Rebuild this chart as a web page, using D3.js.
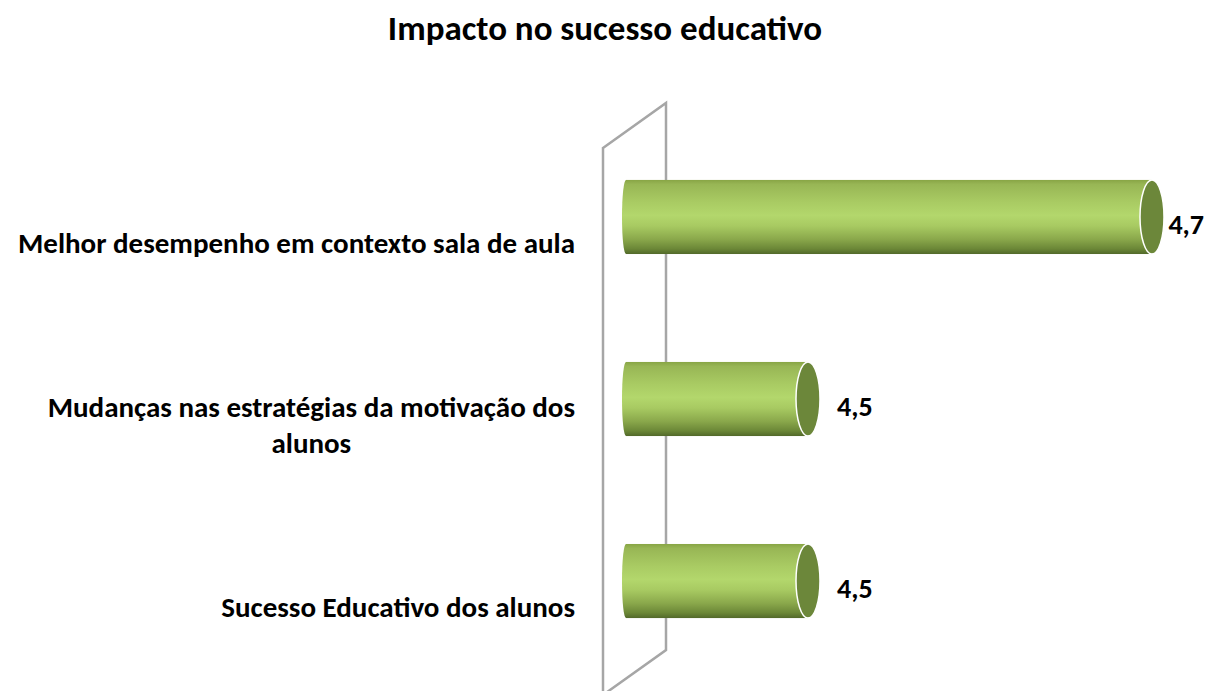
<!DOCTYPE html>
<html>
<head>
<meta charset="utf-8">
<script src="https://cdn.jsdelivr.net/npm/d3@7"></script>
<style>
  html, body { margin: 0; padding: 0; background: #ffffff; }
  svg { display: block; }
  text { font-family: Carlito, Calibri, Lato, "Open Sans", sans-serif; font-weight: bold; fill: #000; }
</style>
</head>
<body>
<svg id="chart" width="1207" height="691"></svg>
<script>
// ---- data ----
const title = "Impacto no sucesso educativo";
const categories = [
  ["Melhor desempenho em contexto sala de aula"],
  ["Mudanças nas estratégias da motivação dos", "alunos"],
  ["Sucesso Educativo dos alunos"]
];
const values = [4.7, 4.5, 4.5];
const valueLabels = ["4,7", "4,5", "4,5"];
const xDomain = [4.4, 4.7];

// ---- layout ----
const W = 1207;
const svg = d3.select("#chart");

const x = d3.scaleLinear().domain(xDomain).range([636, 1152]);
const y = d3.scaleBand().domain(d3.range(categories.length)).range([72, 726]).paddingInner(0.593).paddingOuter(0.593);
const barLeft = x.range()[0] - 12;
const capRx = 12;

// gradient for cylinder body
const defs = svg.append("defs");
const grad = defs.append("linearGradient").attr("id", "cyl").attr("x1", 0).attr("y1", 0).attr("x2", 0).attr("y2", 1);
[[0, "#88a545"], [0.06, "#98b655"], [0.3, "#a9cb63"], [0.48, "#b3d76c"], [0.62, "#a8ca62"], [0.8, "#8aa84b"], [0.93, "#6b8737"], [1, "#52692a"]]
  .forEach(([o, c]) => grad.append("stop").attr("offset", o).attr("stop-color", c));

// wall (category axis plane)
svg.append("g").attr("fill", "none").attr("stroke", "#a6a6a6").attr("stroke-width", 2.5)
  .append("path").attr("d", "M603,148 L666,103 L666,650 L603,695 Z");

// bars
const bars = svg.append("g");
values.forEach((v, i) => {
  const cy = y(i) + y.bandwidth() / 2;
  const ry = y.bandwidth() / 2;
  const g = bars.append("g");
  g.append("ellipse").attr("cx", barLeft + 2).attr("cy", cy).attr("rx", 4).attr("ry", ry).attr("fill", "url(#cyl)");
  g.append("rect").attr("x", barLeft + 2).attr("y", y(i)).attr("width", x(v) - barLeft - 2).attr("height", y.bandwidth()).attr("fill", "url(#cyl)");
  g.append("ellipse").attr("cx", x(v)).attr("cy", cy).attr("rx", capRx).attr("ry", ry)
    .attr("fill", "#6c873a").attr("stroke", "#ffffff").attr("stroke-width", 1.5);
});

// title
svg.append("text").attr("x", 605).attr("y", 40).attr("text-anchor", "middle")
  .attr("font-size", 35).text(title);

// category labels
const labelRight = 575;
const labelFs = 29;
const lh = 36;
categories.forEach((lines, i) => {
  const cy = y(i) + y.bandwidth() / 2 + 26;
  const blockTop = cy - (lines.length - 1) * lh / 2;
  const first = svg.append("text").attr("text-anchor", "end").attr("x", labelRight)
    .attr("y", blockTop + labelFs * 0.33).attr("font-size", labelFs).text(lines[0]);
  if (lines.length > 1) {
    const w = first.node().getComputedTextLength();
    svg.append("text").attr("text-anchor", "middle").attr("x", labelRight - w / 2)
      .attr("y", blockTop + lh + labelFs * 0.33).attr("font-size", labelFs).text(lines[1]);
  }
});

// value labels
const valueFs = 28;
values.forEach((v, i) => {
  const cy = y(i) + y.bandwidth() / 2 + 8;
  const t = svg.append("text").attr("y", cy + valueFs * 0.33)
    .attr("font-size", valueFs).text(valueLabels[i]);
  const w = t.node().getComputedTextLength();
  t.attr("x", Math.min(x(v) + capRx + 17, W - 3 - w));
});
</script>
</body>
</html>
